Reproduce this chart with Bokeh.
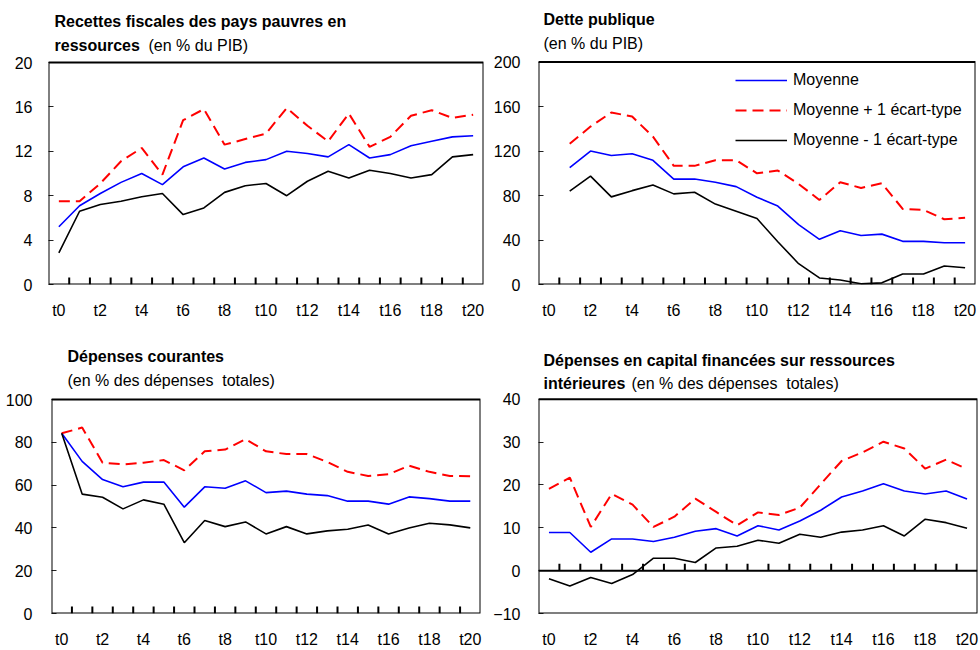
from bokeh.plotting import figure
from bokeh.layouts import row, column
from bokeh.models import Range1d, FixedTicker, Label, Span, Legend, LegendItem, BoxAnnotation
from bokeh.embed import file_html
from bokeh.resources import INLINE

NAN = float("nan")

# ---------------- data ----------------
periods = list(range(21))
period_labels = ["t%d" % i for i in periods]
labelled_periods = periods[::2]

series_names = ["Moyenne", "Moyenne + 1 écart-type", "Moyenne - 1 écart-type"]

# Recettes fiscales (en % du PIB)
rec_mean = [5.2, 7.1, 8.2, 9.2, 10.0, 9.0, 10.6, 11.4, 10.4, 11.0, 11.25,
            12.0, 11.8, 11.5, 12.6, 11.4, 11.7, 12.5, 12.9, 13.3, 13.4]
rec_plus = [7.5, 7.5, 9.1, 11.1, 12.3, 9.9, 14.8, 15.8, 12.6, 13.1, 13.6,
            15.9, 14.3, 12.9, 15.4, 12.4, 13.3, 15.2, 15.7, 15.0, 15.3]
rec_minus = [2.85, 6.6, 7.2, 7.5, 7.9, 8.2, 6.3, 6.9, 8.3, 8.9, 9.1,
             8.0, 9.3, 10.2, 9.6, 10.3, 10.0, 9.6, 9.9, 11.5, 11.7]

# Dette publique (en % du PIB)
debt_mean = [NAN, 105, 120, 116, 117.6, 111.7, 94.8, 94.8, 91.9, 88, 78.5,
             70.5, 53.9, 40.6, 48.3, 44.1, 45.3, 38.8, 38.8, 37.6, 37.6]
debt_plus = [NAN, 126.5, 142, 154.7, 151, 133, 106.7, 106.7, 111.7, 111.7, 100,
             102.5, 90.4, 76, 92, 86.8, 91, 68, 67, 58.7, 60]
debt_minus = [NAN, 83.9, 97.5, 78.8, 84.4, 89.5, 81.5, 83, 72.3, 65.8, 59.3,
              38.5, 18.7, 5.9, 4.1, 0.6, 1.5, 9.5, 9.5, 16.6, 15.1]

# Dépenses courantes (en % des dépenses totales)
cur_mean = [84.2, 71.1, 62.6, 59.2, 61.4, 61.4, 49.7, 59.2, 58.5, 62, 56.5,
            57.2, 55.8, 55.1, 52.5, 52.5, 51.1, 54.5, 53.7, 52.5, 52.5]
cur_plus = [84.2, 86.9, 70.5, 69.7, 70.5, 71.7, 66.9, 75.8, 76.6, 81.5, 75.8,
            74.5, 74.5, 70.8, 66.2, 64.3, 65.1, 69.1, 66.2, 64.3, 64.2]
cur_minus = [84.2, 55.8, 54.3, 48.9, 53.1, 51.1, 33.1, 43.5, 40.6, 42.8, 37.2,
             40.6, 37.2, 38.6, 39.4, 41.4, 37.2, 40, 42.2, 41.4, 40]

# Dépenses en capital financées sur ressources intérieures
cap_mean = [8.9, 8.9, 4.3, 7.4, 7.4, 6.8, 7.8, 9.2, 9.8, 8.1, 10.5,
            9.5, 11.6, 14.1, 17.2, 18.6, 20.3, 18.6, 17.9, 18.6, 16.7]
cap_plus = [19.1, 21.7, 10.2, 17.9, 15.4, 10.2, 12.6, 16.8, 13.7, 10.6, 13.6,
            13.0, 14.7, 20.2, 25.6, 27.6, 30.1, 28.5, 23.8, 25.9, 23.7]
cap_minus = [-1.9, -3.6, -1.6, -3.0, -0.9, 2.9, 2.9, 1.9, 5.3, 5.7, 7.1,
             6.4, 8.5, 7.8, 9.0, 9.5, 10.5, 8.1, 12.0, 11.2, 9.9]

rec_yticks = [0, 4, 8, 12, 16, 20]
debt_yticks = [0, 40, 80, 120, 160, 200]
cur_yticks = [0, 20, 40, 60, 80, 100]
cap_yticks = [-10, 0, 10, 20, 30, 40]

# ---------------- style ----------------
FONT = "Liberation Sans"
BLUE = "#0000FF"
RED = "#FF0000"
BLACK = "#000000"
boundaries = [p + 0.5 for p in periods[:-1]]
X0, X1 = -0.5, 20.5
TICK_PX = 7


def make_fig(width, height, left, right, frame_top, box_top, box_bottom,
             yticks, ystand):
    """frame_top / box_top / box_bottom are pixel rows inside the figure.
    The frame is extended upward so that the titles can live inside it; the
    visible plot box is drawn as a BoxAnnotation."""
    y0, y1 = yticks[0], yticks[-1]
    per_px = (y1 - y0) / float(box_bottom - box_top)
    y_end = y1 + (box_top - frame_top) * per_px
    p = figure(width=width, height=height,
               x_range=Range1d(X0, X1), y_range=Range1d(y0, y_end),
               output_backend="svg", toolbar_location=None,
               min_border_left=left, min_border_right=right,
               min_border_top=frame_top, min_border_bottom=height - box_bottom)
    p.xgrid.visible = False
    p.ygrid.visible = False
    p.outline_line_color = None
    p.background_fill_color = "white"
    p.border_fill_color = "white"

    xa = p.xaxis[0]
    xa.ticker = FixedTicker(ticks=labelled_periods)
    xa.major_label_overrides = {i: period_labels[i] for i in labelled_periods}
    xa.major_tick_line_color = None
    xa.minor_tick_line_color = None
    xa.major_label_standoff = 11
    xa.axis_line_color = None

    ya = p.yaxis[0]
    ya.ticker = FixedTicker(ticks=yticks)
    ya.major_tick_in = 5
    ya.major_tick_out = 0
    ya.major_tick_line_color = "#222222"
    ya.major_tick_line_width = 1.2
    ya.minor_tick_line_color = None
    ya.major_label_standoff = ystand
    ya.axis_line_color = None

    for ax in (xa, ya):
        ax.major_label_text_font = FONT
        ax.major_label_text_font_size = "16px"
        ax.major_label_text_color = BLACK

    p.add_layout(BoxAnnotation(left=X0, right=X1, bottom=y0, top=y1,
                               fill_alpha=0, line_color=BLACK, line_width=2,
                               line_alpha=1, level="overlay"))
    return p, per_px


def add_period_ticks(p, per_px, base):
    # inward tick marks between periods, standing on the horizontal axis line
    n = len(boundaries)
    p.segment(x0=boundaries, y0=[base] * n, x1=boundaries,
              y1=[base + TICK_PX * per_px] * n,
              line_color=BLACK, line_width=2)


def add_text(p, text, x_px, y_px, box_left, box_bottom, bold):
    # x_px, y_px: position inside the figure canvas (y = text middle)
    p.add_layout(Label(x=x_px - box_left, y=box_bottom - y_px,
                       x_units="screen", y_units="screen", text=text,
                       text_font=FONT, text_font_size="16px",
                       text_font_style="bold" if bold else "normal",
                       text_baseline="middle", text_align="left",
                       text_color=BLACK))


def add_lines(p, mean, plus, minus):
    r1 = p.line(periods, mean, line_color=BLUE, line_width=1.6)
    r2 = p.line(periods, plus, line_color=RED, line_width=2, line_dash="11 6")
    r3 = p.line(periods, minus, line_color=BLACK, line_width=1.6)
    return r1, r2, r3


# Panel 1 : canvas 490x326, box x 48..483, y 62..284
p1, s1 = make_fig(490, 326, 48, 7, 4, 62, 284, rec_yticks, 16)
add_period_ticks(p1, s1, rec_yticks[0])
add_lines(p1, rec_mean, rec_plus, rec_minus)
add_text(p1, "Recettes fiscales des pays pauvres en", 54, 21, 48, 284, True)
add_text(p1, "ressources", 54, 45, 48, 284, True)
add_text(p1, "(en % du PIB)", 148, 45, 48, 284, False)

# Panel 2 : canvas 490x326 (page x 490..980), box x 45..485, y 62..286
p2, s2 = make_fig(490, 326, 45, 5, 4, 62, 286, debt_yticks, 18)
add_period_ticks(p2, s2, debt_yticks[0])
r1, r2, r3 = add_lines(p2, debt_mean, debt_plus, debt_minus)
add_text(p2, "Dette publique", 50, 21, 45, 286, True)
add_text(p2, "(en % du PIB)", 50, 45, 45, 286, False)
legend = Legend(items=[LegendItem(label=series_names[0], renderers=[r1]),
                       LegendItem(label=series_names[1], renderers=[r2]),
                       LegendItem(label=series_names[2], renderers=[r3])],
                location=(197, 134))
legend.border_line_color = None
legend.background_fill_alpha = 0
legend.padding = 0
legend.margin = 0
legend.spacing = 10
legend.glyph_width = 52
legend.glyph_height = 20
legend.label_height = 20
legend.label_standoff = 6
legend.label_text_font = FONT
legend.label_text_font_size = "16px"
legend.label_text_color = BLACK
p2.add_layout(legend)

# Panel 3 : canvas 490x324 (page y 326..650), box x 51..480, y 74..291
p3, s3 = make_fig(490, 324, 51, 10, 4, 74, 291, cur_yticks, 19)
add_period_ticks(p3, s3, cur_yticks[0])
add_lines(p3, cur_mean, cur_plus, cur_minus)
add_text(p3, "Dépenses courantes", 67, 34, 51, 291, True)
add_text(p3, "(en % des dépenses\u00a0 totales)", 67, 58, 51, 291, False)

# Panel 4 : canvas 490x324, box x 48..487, y 73..288
p4, s4 = make_fig(490, 324, 48, 3, 4, 73, 288, cap_yticks, 18)
p4.add_layout(Span(location=0, dimension="width", line_color=BLACK, line_width=2))
add_period_ticks(p4, s4, 0)
add_lines(p4, cap_mean, cap_plus, cap_minus)
add_text(p4, "Dépenses en capital financées sur ressources", 53, 35, 48, 288, True)
add_text(p4, "intérieures", 53, 58, 48, 288, True)
add_text(p4, "(en % des dépenses\u00a0 totales)", 141, 58, 48, 288, False)

layout = column(row(p1, p2), row(p3, p4))
open("out.html", "w").write(file_html(layout, INLINE))
